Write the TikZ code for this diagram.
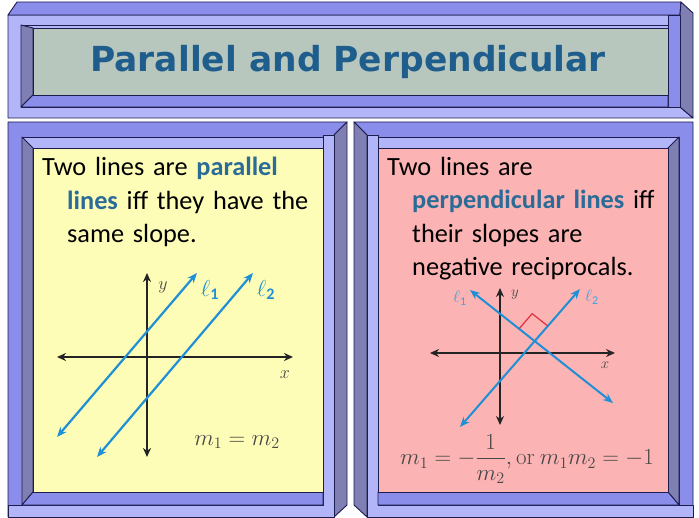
\RequirePackage{fix-cm}
\documentclass[tikz,border=0pt]{standalone}
\usepackage{amsmath}
\usepackage[no-math]{fontspec}
\setmainfont{Carlito}
\newfontfamily\titlefont{DejaVu Sans}
\usetikzlibrary{arrows.meta, calc}

\definecolor{frameA}{HTML}{8A8DEA}
\definecolor{frameB}{HTML}{B2B5F8}
\definecolor{frameC}{HTML}{7F7FB3}
\definecolor{edgecol}{HTML}{1C1C4E}
\definecolor{titleface}{HTML}{B8C7BD}
\definecolor{parface}{HTML}{FDFDB8}
\definecolor{perpface}{HTML}{FCB3B3}
\definecolor{titlecol}{HTML}{1F5E8C}
\definecolor{keycol}{HTML}{2A6C97}
\definecolor{linecol}{HTML}{1F8FD6}
\definecolor{labelcol}{HTML}{3EA2E2}
\definecolor{axiscol}{HTML}{242424}
\definecolor{mathcol}{HTML}{474747}
\definecolor{anglecol}{HTML}{E0313C}

\newcommand{\keyword}[1]{\textbf{\color{keycol}#1}}

\begin{document}
\begin{tikzpicture}[
  x=1pt, y=-1pt, line join=round,
  edge/.style={draw=edgecol, line width=0.9pt},
  midface/.style={edge, fill=frameA},
  liteface/.style={edge, fill=frameB},
  sideface/.style={edge, fill=frameC},
  bodytext/.style={anchor=north west, inner sep=0pt, text width=#1,
                   align=left, font=\fontsize{26.3}{33.5}\selectfont},
  eqtext/.style={font=\fontsize{23}{27}\selectfont, text=mathcol},
  axlabel/.style={font=\fontsize{18}{20}\selectfont, text=mathcol},
  axis/.style={draw=axiscol, line width=1.7pt,
               {Stealth[length=9pt,width=8pt]}-{Stealth[length=9pt,width=8pt]}},
  slopeline/.style={draw=linecol, line width=2.2pt,
               {Stealth[length=10pt,width=8pt]}-{Stealth[length=10pt,width=8pt]}},
  anglemark/.style={draw=anglecol, line width=1.2pt}
]

\fill[white] (0,0) rectangle (699,518);
\useasboundingbox (0,0) rectangle (699,518);

%% ── Title banner ─────────────────────────────────────────────
\draw[liteface] (8,15) -- (680,15) -- (680,107) -- (693,118) -- (8,118) -- cycle;
\draw[midface]  (8,15) -- (17,2) -- (681,2) -- (680,15) -- cycle;
\draw[sideface] (681,2) -- (693,13) -- (693,118) -- (680,107) -- (680,15) -- cycle;
\draw[midface]  (668,15) rectangle (680,107);
\draw[liteface] (21,25) rectangle (668,107);
\draw[sideface] (21,25) -- (33,28) -- (33,95) -- (21,107) -- cycle;
\draw[midface]  (21,107) -- (33,95) -- (668,95) -- (668,107) -- cycle;
\draw[edge, fill=titleface] (33,28) rectangle (668,95);

\node[font=\titlefont\bfseries\fontsize{34.5}{36}\selectfont, text=titlecol]
  (titletxt) at (348,62) {Parallel and Perpendicular};

%% ── Side panels (right one is the mirror image) ──────────────
\foreach \sx/\dx/\face in {1/0/parface, -1/701/perpface} {
  \begin{scope}[xshift=\dx pt, xscale=\sx]
    \draw[midface]  (8,122) -- (347,122) -- (334,135) -- (334,517) -- (8,517) -- cycle;
    \draw[sideface] (347,122) -- (347,505) -- (334,517) -- (334,135) -- cycle;
    \draw[liteface] (323,135) -- (334,135) -- (334,517) -- (8,517) -- (8,505)
                    -- (323,505) -- cycle;
    \draw[liteface] (22,137) rectangle (323,505);
    \draw[sideface] (22,137) -- (33,148) -- (33,492) -- (22,505) -- cycle;
    \draw[midface]  (22,505) -- (33,492) -- (323,492) -- (323,505) -- cycle;
    \draw[edge, fill=\face] (33,148) rectangle (323,492);
  \end{scope}
}

%% ── Parallel panel ───────────────────────────────────────────
\node[bodytext=285pt] (partxt) at (42,157)
  {Two lines are \keyword{parallel}\newline
   \hspace*{25pt}\keyword{lines} iff they have the\newline
   \hspace*{25pt}same slope.};

\coordinate (lxw) at (57,357);  \coordinate (lxe) at (293,357);
\coordinate (lys) at (147,457); \coordinate (lyn) at (147,273);
\coordinate (l1s) at (57,437);  \coordinate (l1n) at (197,273);
\coordinate (l2s) at (97,457);  \coordinate (l2n) at (253,273);

\draw[axis] (lxw) -- (lxe);
\draw[axis] (lys) -- (lyn);
\draw[slopeline] (l1s) -- (l1n);
\draw[slopeline] (l2s) -- (l2n);

\node[axlabel] (lylab) at (163,287) {$y$};
\node[axlabel] (lxlab) at (285,375) {$x$};
\node[font=\fontsize{23}{25}\selectfont, text=linecol] (l1lab) at (210,290)
  {$\ell_{\text{\bfseries 1}}$};
\node[font=\fontsize{23}{25}\selectfont, text=linecol] (l2lab) at (266,290)
  {$\ell_{\text{\bfseries 2}}$};
\node[eqtext] (pareq) at (237,442) {$m_1 = m_2$};

%% ── Perpendicular panel ──────────────────────────────────────
\node[bodytext=285pt] (perptxt) at (387,157)
  {Two lines are\newline
   \hspace*{25pt}\keyword{perpendicular lines} iff\newline
   \hspace*{25pt}their slopes are\newline
   \hspace*{25pt}negative reciprocals.};

\coordinate (rxw) at (430,353); \coordinate (rxe) at (615,353);
\coordinate (rys) at (500,425); \coordinate (ryn) at (500,288);
\coordinate (r1n) at (470,290); \coordinate (r1s) at (613,403);
\coordinate (r2s) at (460,427); \coordinate (r2n) at (580,289);
\coordinate (rmeet) at (intersection of r1n--r1s and r2s--r2n);

\draw[axis, line width=1.4pt] (rxw) -- (rxe);
\draw[axis, line width=1.4pt] (rys) -- (ryn);
\draw[slopeline, line width=2pt] (r1n) -- (r1s);
\draw[slopeline, line width=2pt] (r2s) -- (r2n);

\coordinate (ra) at ($(rmeet)!20pt!(r2n)$);
\coordinate (rb) at ($(rmeet)!20pt!(r1n)$);
\draw[anglemark] (ra) -- ($(ra)+(rb)-(rmeet)$) -- (rb);

\node[axlabel, font=\fontsize{15}{17}\selectfont] (rylab) at (515,295) {$y$};
\node[axlabel, font=\fontsize{15}{17}\selectfont] (rxlab) at (605,365) {$x$};
\node[font=\fontsize{17}{19}\selectfont, text=labelcol] (r1lab) at (460,298)
  {$\ell_{\text{1}}$};
\node[font=\fontsize{17}{19}\selectfont, text=labelcol] (r2lab) at (592,297)
  {$\ell_{\text{2}}$};
\node[eqtext] (perpeq) at (527,459)
  {$m_1 = -\dfrac{1}{m_2}, \mathrm{or}\ m_1m_2 = -1$};

\end{tikzpicture}
\end{document}
